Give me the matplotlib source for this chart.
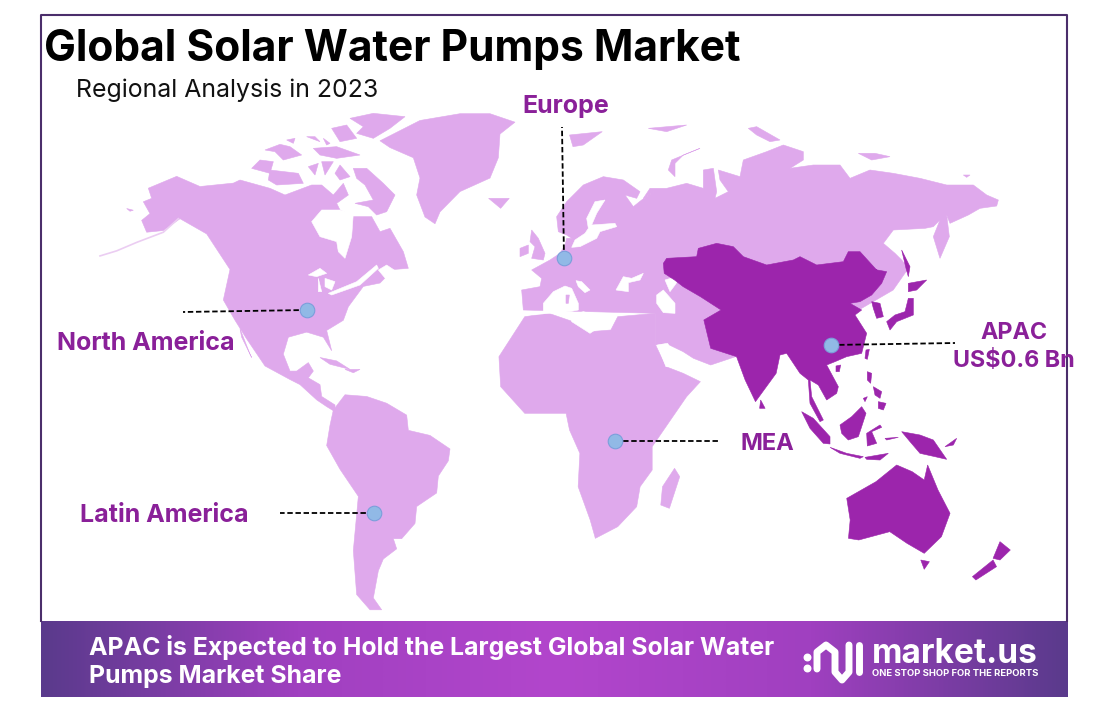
import matplotlib
matplotlib.use("Agg")
import matplotlib.pyplot as plt
import numpy as np
from matplotlib.colors import LinearSegmentedColormap
from matplotlib.patches import Polygon

plt.rcParams["font.family"] = ["Inter", "DejaVu Sans"]

LIGHT = "#DFA9EC"
DARK = "#9C25AC"
LABEL = "#8A2099"
WHITE = "#FFFFFF"

# ---------------------------------------------------------
# Text and callouts
# ---------------------------------------------------------
title = "Global Solar Water Pumps Market"
subtitle = "Regional Analysis in 2023"
banner_lines = ["APAC is Expected to Hold the Largest Global Solar Water", "Pumps Market Share"]

region_names = ["Europe", "North America", "Latin America", "MEA", "APAC\nUS$0.6 Bn"]
region_label_xy = [(566, 107), (146, 343), (164, 516), (767, 444), (1014, 347)]
region_label_size = [18, 18, 18, 17, 16.8]
region_dot_xy = [(564, 258), (307, 310), (374, 513), (615, 441), (831, 345)]
region_line_end = [(562, 127), (183, 312), (280, 513), (720, 441), (955, 343)]

# ---------------------------------------------------------
# Map outlines, read from crops of the map (crop units, see helpers below)
# ---------------------------------------------------------
alaska_west = [(140,420),(125,385),(150,365),(130,330),(155,320),(145,290),(230,255),(300,285),(400,275)]
canada_north = [(0,225),(90,250),(135,270),(215,240),(245,240),(280,270),(310,235),(325,270),(290,295),(300,315),
                (340,335),(395,335),(420,380),(450,370),(490,440),(505,490)]
usa_mexico = [(880,530),(840,570),(790,580),(745,640),(730,680),(680,710),(695,770),(670,730),(620,715),
              (565,730),(550,780),(570,830),(590,830),(625,805),(640,830),(625,850),(660,870),(665,905),
              (705,930),(705,950),(680,935),(650,915),(600,870),(570,855),(495,815),(440,735),(405,680),
              (370,620),(390,530),(350,470),(320,425),(240,380),(190,415)]
south_america = [(700,945),(735,900),(800,905),(860,925),(920,960),(925,1005),(990,1020),(1050,1060),(1045,1095),
                 (1015,1140),(1010,1190),(950,1230),(945,1280),(905,1325),(880,1325),(890,1355),(850,1385),
                 (835,1420),(820,1500),(845,1535),(810,1535),(770,1490),(760,1360),(775,1200),(720,1120),
                 (680,1050),(690,990)]
greenland = [(840,150),(960,90),(1080,70),(1170,70),(1245,95),(1200,130),(1195,200),(1170,260),(1080,300),
             (1020,360),(1005,395),(975,375),(950,310),(960,260),(940,200),(870,170)]
caribbean = [
    [(660,790),(710,800),(750,825),(690,810)],
    [(735,825),(780,825),(760,835)],
    [(420,705),(450,780),(455,790),(425,730)],
    [(80,350),(100,355),(90,358)],
]
canada_islands = [
    [(330,40),(400,25),(495,35),(450,70),(400,100),(350,85),(370,65)],
    [(275,70),(320,60),(350,100),(300,110)],
    [(200,95),(225,95),(240,110)],
    [(250,100),(270,115),(260,120)],
    [(75,135),(120,118),(150,125),(185,150),(130,165),(105,140)],
    [(140,105),(165,100),(160,115)],
    [(220,130),(290,125),(360,150),(290,160),(240,150)],
    [(35,190),(60,165),(100,170),(90,205)],
    [(90,195),(175,205),(190,235),(110,240),(85,225)],
    [(205,185),(235,175),(225,210)],
    [(245,170),(280,170),(255,210)],
    [(285,205),(300,180),(330,215),(300,225)],
    [(340,190),(380,190),(430,235),(465,270),(440,320),(410,330),(385,305),(345,295),(400,285),(375,240),(350,220)],
]
canada_water = [
    [(215,350),(245,315),(300,315),(340,325),(335,395),(315,460),(295,440),(290,410),(240,395)],
    [(205,510),(240,490),(260,505),(230,515)],
    [(235,520),(245,560),(235,560)],
    [(255,520),(285,530),(275,555),(255,545)],
    [(265,565),(350,530),(410,480),(415,490),(360,540),(275,570)],
    [(415,495),(440,480),(470,500),(440,525)],
]
aleutians = [(0,490),(50,475),(110,450),(190,420),(235,380)]

europe_coast = [(70,450),(65,390),(120,380),(125,355),(95,330),(150,300),(180,280),(195,255),(200,235),(215,235),
                (200,225),(175,215),(170,170),(200,125),(250,75),(310,50),(370,60),(420,95),(410,115),(375,105),
                (400,140),(425,120),(470,90)]
russia_coast = [(130,235),(150,205),(200,205),(260,190),(310,205),(310,150),(340,145),(350,215),(345,235),(385,215),
                (360,180),(355,150),(420,170),(430,120),(500,95),(550,75),(610,95),(610,120),(570,145),(640,135),
                (720,135),(750,175),(810,150),(880,160),(960,175),(1040,195),(1120,195),(1160,225),(1195,240),
                (1190,258),(1140,265),(1105,285),(1050,310),(1040,285),(1048,350),(1020,415),(1000,350),(1020,300),
                (1000,320),(975,325),(880,330),(850,370),(885,400),(905,420),(925,445)]
asia_south = [(1200,540),(1100,600),(1000,700),(800,720),(670,765),(620,745),(590,725),(540,700),(510,705),(510,610)]
africa = [(510,705),(540,770),(590,790),(640,815),(600,860),(540,950),(500,1010),(500,1080),(465,1130),(455,1190),
          (400,1250),(335,1285),(320,1230),(285,1130),(290,1030),(260,960),(250,910),(130,910),(60,830),(55,740),
          (130,620),(200,610),(270,635),(320,665),(380,660),(400,620),(510,610)]
east_light_islands = [
    [(25,265),(85,265),(60,295)],
    [(260,75),(355,65),(300,105),(270,110)],
    [(565,1075),(580,1100),(550,1195),(525,1185),(530,1130)],
]
uk_ireland = [
    [(95,210),(115,235),(135,280),(130,300),(95,295),(105,260),(90,245)],
    [(60,265),(85,255),(85,280),(60,290)],
]
russia_islands = [
    [(205,150),(215,120),(300,85),(250,105),(225,130),(225,170)],
    [(445,25),(470,20),(540,60),(510,65),(470,45)],
    [(145,25),(260,15),(200,35)],
    [(775,100),(825,100),(870,110),(815,120)],
    [(1090,165),(1110,165),(1100,172)],
]
europe_water = [
    [(85,465),(130,455),(130,430),(160,395),(195,378),(215,385),(235,430),(235,450),(210,455)],
    [(215,465),(250,455),(290,465),(335,465),(335,495),(300,500),(270,520),(215,485)],
    [(228,362),(245,365),(270,390),(255,398),(235,380)],
    [(348,390),(370,350),(395,355),(430,340),(420,360),(385,368),(385,395)],
    [(470,405),(490,390),(525,430),(525,460),(490,458),(470,430)],
    [(495,360),(545,345),(525,375),(510,395)],
    [(260,175),(285,125),(315,120),(290,160),(275,195),(345,190),(350,200),(300,215),(290,235),(240,260),(215,262),
     (225,240),(255,220),(265,205)],
]
sardinia = [(198,405),(208,405),(205,430),(198,430)]
gulf_water = [(515,705),(545,700),(570,745),(615,750),(610,790),(575,770),(540,770)]

apac_north = [(190,430),(200,415),(290,410),(295,385),(350,370),(400,380),(430,410),(500,435),(580,420),(600,410),
              (650,435),(730,425),(745,395),(780,395),(830,450)]
apac_east = [(265,85),(320,95),(305,130),(275,165),(240,185),(210,190),(245,210),(225,225),(260,280),(245,340),
             (200,350),(165,365),(140,375),(175,440),(170,460),(140,480),(115,435),(90,420),(95,470),(130,540),
             (120,545),(90,490),(85,420),(60,400),(20,340),(0,345)]
apac_west = [(860,790),(800,875),(770,810),(745,740),(670,715),(650,630),(700,600),(640,560),(590,530),(565,510),
             (535,490)]
australia = [(1065,1165),(1150,1115),(1210,1065),(1255,1085),(1290,1110),(1300,1065),(1330,1140),(1365,1210),
             (1340,1280),(1290,1330),(1240,1300),(1190,1265),(1100,1290),(1070,1285),(1075,1230)]
oceania_islands = [
    [(815,870),(828,895),(812,895)],
    [(1280,1350),(1305,1355),(1290,1378)],
    [(1510,1295),(1540,1320),(1510,1350),(1490,1345)],
    [(1490,1350),(1500,1370),(1440,1410),(1430,1400)],
]
asia_islands = [
    [(275,185),(300,190),(310,230),(290,235),(280,205)],
    [(320,245),(345,225),(375,215),(385,175),(400,175),(400,225),(350,245),(330,270)],
    [(385,130),(440,120),(410,150),(385,155)],
    [(365,30),(390,80),(385,110),(378,85)],
    [(258,330),(268,328),(262,358),(255,355)],
    [(168,378),(182,375),(178,395),(168,395)],
    [(262,395),(275,400),(272,430),(262,420)],
    [(280,440),(305,455),(300,475),(285,465)],
    [(295,485),(318,490),(310,510),(295,505)],
    [(250,475),(262,470),(255,485)],
    [(180,555),(215,530),(245,500),(258,520),(245,560),(235,590),(205,600),(185,580)],
    [(260,580),(300,555),(305,562),(275,575),(290,610),(262,618)],
    [(65,515),(100,535),(150,590),(150,612),(130,610),(90,565)],
    [(150,622),(200,640),(250,650),(240,655),(180,640)],
    [(255,652),(325,640),(300,660),(260,658)],
    [(365,575),(420,585),(460,600),(500,658),(465,650),(420,640),(390,605)],
    [(315,595),(355,592),(320,600)],
    [(495,620),(530,595),(520,615)],
]

# logo outline
logo_wave = [(817,669),(817,652),(826,645),(835,652),(835,672),(842,680),(849,672),(849,645)]
logo_bar = [(859,645),(859,672)]
logo_dots = [(807,657),(807,668)]


# helpers: crop units -> picture pixels
def from_west(pts):
    return [(100 + x / 3, 90 + y / 2.953) for x, y in pts]


def from_east(pts):
    return [(480 + x / 2.904, 110 + y / 3) for x, y in pts]


def from_canada(pts):
    return [(240 + x / 3, 105 + y / 3) for x, y in pts]


def from_europe(pts):
    return [(500 + x / 3, 160 + y / 3) for x, y in pts]


def from_russia(pts):
    return [(600 + x / 3, 120 + y / 3) for x, y in pts]


def from_asia(pts):
    return [(780 + x / 3, 240 + y / 3) for x, y in pts]


def add_shape(ax, pts, color, z):
    ax.add_patch(Polygon(pts, closed=True, facecolor=color, edgecolor=color, linewidth=0.4, zorder=z))


fig = plt.figure(figsize=(11.09, 7.16), dpi=100)
ax = fig.add_axes([0, 0, 1, 1])

# banner gradient
banner_cmap = LinearSegmentedColormap.from_list("banner", ["#5A3A8C", "#A040C0", "#B246CC", "#A040C0", "#5A3A8C"])
ax.imshow(np.linspace(0, 1, 512).reshape(1, -1), cmap=banner_cmap, extent=(41, 1068, 697, 621), aspect="auto", zorder=1)
ax.set_xlim(0, 1109)
ax.set_ylim(716, 0)
ax.axis("off")

# frame
ax.plot([41, 41, 1067, 1067], [621, 15, 15, 621], color="#4B2E6B", lw=1.5, zorder=1)

# light land
add_shape(ax, from_west(alaska_west) + from_canada(canada_north) + from_west(usa_mexico), LIGHT, 2)
add_shape(ax, from_europe(europe_coast) + from_russia(russia_coast) + from_east(asia_south), LIGHT, 2)
for shape in [south_america, greenland] + caribbean:
    add_shape(ax, from_west(shape), LIGHT, 2)
for shape in canada_islands:
    add_shape(ax, from_canada(shape), LIGHT, 2)
for shape in [africa] + east_light_islands:
    add_shape(ax, from_east(shape), LIGHT, 2)
for shape in uk_ireland:
    add_shape(ax, from_europe(shape), LIGHT, 2)
for shape in russia_islands:
    add_shape(ax, from_russia(shape), LIGHT, 2)
ax.plot(*zip(*from_west(aleutians)), color="#EBCDF2", lw=1.2, zorder=2)

# lakes and inland seas
for shape in canada_water:
    add_shape(ax, from_canada(shape), WHITE, 3)
for shape in europe_water:
    add_shape(ax, from_europe(shape), WHITE, 3)
add_shape(ax, from_east(gulf_water), WHITE, 3)
add_shape(ax, from_europe(sardinia), LIGHT, 3)

# APAC
add_shape(ax, from_russia(apac_north) + from_asia(apac_east) + from_east(apac_west), DARK, 4)
add_shape(ax, from_east(australia), DARK, 4)
for shape in oceania_islands:
    add_shape(ax, from_east(shape), DARK, 4)
for shape in asia_islands:
    add_shape(ax, from_asia(shape), DARK, 4)

# callouts
for dot, end in zip(region_dot_xy, region_line_end):
    ax.plot([dot[0], end[0]], [dot[1], end[1]], color="black", lw=1.3, ls=(0, (3, 1.5)), zorder=5)
ax.scatter(*zip(*region_dot_xy), s=110, color="#91B9E6", edgecolor="#7B9FDB", linewidth=0.8, zorder=6)

for name, xy, size in zip(region_names, region_label_xy, region_label_size):
    ax.text(xy[0], xy[1], name, color=LABEL, fontsize=size, fontweight="bold", ha="center", va="center",
            linespacing=1.35, zorder=7)

# titles
ax.text(44, 50, title, fontsize=30.6, fontweight="bold", color="black", va="center", ha="left", zorder=7)
ax.text(76, 90, subtitle, fontsize=17.9, color="#111111", va="center", ha="left", zorder=7)

# banner text
ax.text(89, 648, banner_lines[0], fontsize=17.9, fontweight="bold", color="white", va="center", ha="left", zorder=7)
ax.text(89, 677, banner_lines[1], fontsize=17.9, fontweight="bold", color="white", va="center", ha="left", zorder=7)

# logo
ax.plot(*zip(*logo_wave), color="white", lw=5, solid_capstyle="round", solid_joinstyle="round", zorder=7)
ax.plot(*zip(*logo_bar), color="white", lw=5, solid_capstyle="round", zorder=7)
ax.scatter(*zip(*logo_dots), s=22, color="white", zorder=7)
ax.text(872, 663, "market.us", fontsize=24, fontweight="bold", color="white", va="baseline", ha="left", zorder=7)
ax.text(872, 676, "ONE STOP SHOP FOR THE REPORTS", fontsize=6.8, fontweight="bold", color="white", va="baseline", ha="left", zorder=7)

fig.savefig("out.png", dpi=100, facecolor="white")
